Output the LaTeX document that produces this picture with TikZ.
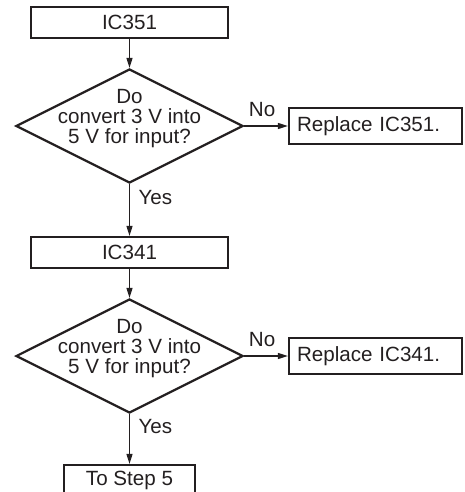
\documentclass[tikz,border=0pt]{standalone}
\usepackage{fontspec}
\setmainfont{Liberation Sans}
\usetikzlibrary{arrows.meta,shapes.geometric}
\definecolor{ink}{RGB}{35,31,32}

\tikzset{
  stepbox/.style={draw=ink, line width=2.2pt, rectangle, inner sep=0pt, minimum height=31pt},
  replbox/.style={stepbox, minimum height=36pt, text width=157pt, inner xsep=8pt, align=left},
  decision/.style={draw=ink, line width=2.2pt, diamond, inner sep=0pt, minimum width=227pt, minimum height=114pt},
  qtext/.style={inner sep=0pt, align=center},
  flow/.style={draw=ink, line width=1.2pt, -{Triangle[length=10pt,width=6pt]}},
  lbl/.style={inner sep=0pt}
}

\begin{document}
\begin{tikzpicture}[x=1pt, y=-1pt, text=ink, font=\fontsize{20.6}{20.4}\selectfont]
  \useasboundingbox (0,0) rectangle (464,492);
  \clip (0,0) rectangle (464,492);

  \node[stepbox, minimum width=197pt] (ic351) at (129.5,22.5) {IC351};
  \node[decision] (q351) at (129.5,126) {};
  \node[qtext] (q351t) at (129.5,118.5) {Do\\convert 3 V into\\5 V for input?};
  \node[replbox] (r351) at (375.5,126) {Replace IC351.};

  \node[stepbox, minimum width=197pt] (ic341) at (129.5,252.5) {IC341};
  \node[decision] (q341) at (129.5,356) {};
  \node[qtext] (q341t) at (129.5,348.5) {Do\\convert 3 V into\\5 V for input?};
  \node[replbox] (r341) at (375.5,356) {Replace IC341.};

  \node[stepbox, minimum width=131pt] (step5) at (129.5,480.5) {To Step 5};

  \draw[flow] (ic351) -- (q351);
  \draw[flow] (q351) -- node[lbl, above=9pt, pos=0.41] {No} (r351);
  \draw[flow] (q351) -- node[lbl, right=8.5pt, pos=0.25] {Yes} (ic341);

  \draw[flow] (ic341) -- (q341);
  \draw[flow] (q341) -- node[lbl, above=9pt, pos=0.41] {No} (r341);
  \draw[flow] (q341) -- node[lbl, right=8.5pt, pos=0.25] {Yes} (step5);
\end{tikzpicture}
\end{document}
